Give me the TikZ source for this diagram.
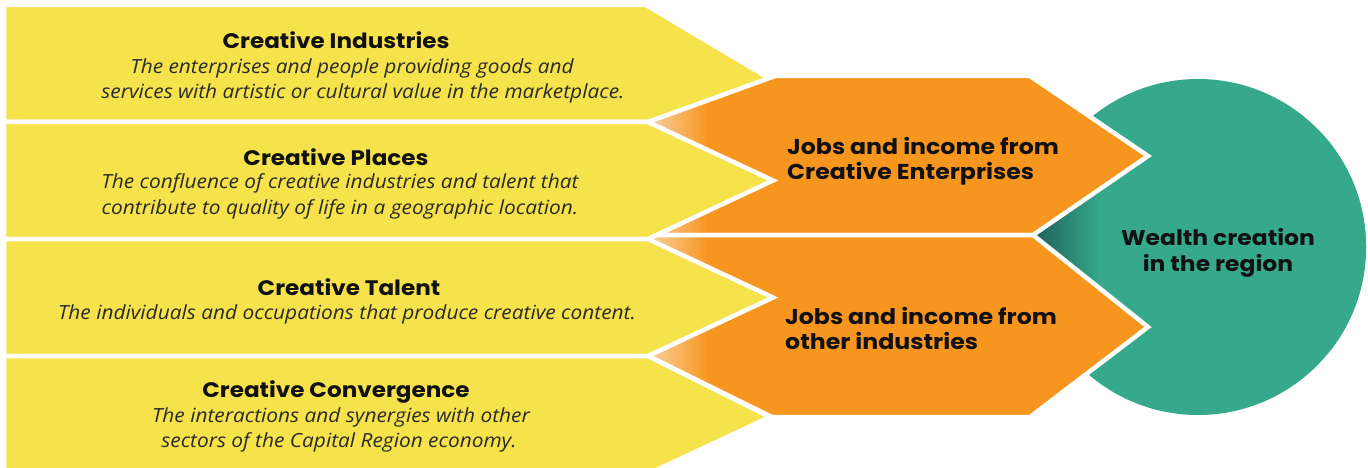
\documentclass[tikz,border=0pt]{standalone}
\usepackage{fontspec}
\newfontfamily\headfont{Poppins}[FakeStretch=1.1]
\newfontfamily\descfont{Open Sans}[FakeStretch=1.07]
\definecolor{cyellow}{HTML}{F6E34C}
\definecolor{corange}{HTML}{F7961F}
\definecolor{cpeach}{HTML}{F9D3A6}
\definecolor{cteal}{HTML}{36A98A}
\definecolor{cdteal}{HTML}{1C5A57}
\definecolor{ctext}{HTML}{111111}
\tikzset{
  ybox/.style={fill=cyellow, draw=white, line width=4.5pt, line join=miter},
  obox/.style={draw=white, line width=4.5pt, line join=miter},
  head/.style={font=\headfont\bfseries\fontsize{21}{24}\selectfont, text=ctext, anchor=base, inner sep=0pt},
  desc/.style={font=\descfont\itshape\fontsize{19.5}{22}\selectfont, text=ctext!90, anchor=base, inner sep=0pt},
  otext/.style={font=\headfont\bfseries\fontsize{21.5}{25}\selectfont, text=ctext, anchor=base west, inner sep=0pt},
  wtext/.style={font=\headfont\bfseries\fontsize{21.3}{25}\selectfont, text=ctext, anchor=base, inner sep=0pt}
}
\begin{document}
\begin{tikzpicture}[x=1pt,y=-1pt]
\useasboundingbox (0,0) rectangle (1368,468);
\fill[white] (0,0) rectangle (1368,468);
% teal circle with dark notch
\fill[cteal] (1198,247) circle (168);
\begin{scope}
  \clip (1198,247) circle (168);
  \shade[left color=cdteal, right color=cteal] (1028,130) rectangle (1100,350);
  \fill[cteal] (1099,130) rectangle (1370,350);
\end{scope}
% yellow row 1 (behind orange)
\path[ybox] (4,5) -- (646,5) -- (772,80) -- (648,122) -- (4,122) -- cycle;
% orange shapes
\fill[corange] (648,122) -- (775,76) -- (1030,76) -- (1148,156) -- (1033,235) -- (648,235) -- cycle;
\begin{scope}
  \clip (648,122) -- (775,76) -- (1030,76) -- (1148,156) -- (1033,235) -- (648,235) -- cycle;
  \shade[left color=cpeach, right color=corange] (646,60) rectangle (708,420);
\end{scope}
\path[obox] (648,122) -- (775,76) -- (1030,76) -- (1148,156) -- (1033,235) -- (648,235) -- cycle;
\fill[corange] (648,235) -- (1033,235) -- (1148,327) -- (1030,417) -- (772,417) -- (648,356) -- cycle;
\begin{scope}
  \clip (648,235) -- (1033,235) -- (1148,327) -- (1030,417) -- (772,417) -- (648,356) -- cycle;
  \shade[left color=cpeach, right color=corange] (646,60) rectangle (708,420);
\end{scope}
\path[obox] (648,235) -- (1033,235) -- (1148,327) -- (1030,417) -- (772,417) -- (648,356) -- cycle;
% yellow rows 2-4 (on top)
\path[ybox] (4,122) -- (648,122) -- (773,180.5) -- (648,239) -- (4,239) -- cycle;
\path[ybox] (4,239) -- (648,239) -- (773,297.5) -- (648,356) -- (4,356) -- cycle;
\path[ybox] (4,356) -- (648,356) -- (770,417) -- (648,474) -- (4,474) -- cycle;
% texts
\node[head] (h1) at (336,49) {Creative Industries};
\node[desc] (d1a) at (352,74) {The enterprises and people providing goods and};
\node[desc] (d1b) at (363,99) {services with artistic or cultural value in the marketplace.};
\node[head] (h2) at (336,165) {Creative Places};
\node[desc] (d2a) at (340,189) {The confluence of creative industries and talent that};
\node[desc] (d2b) at (340,214) {contribute to quality of life in a geographic location.};
\node[head] (h3) at (349,295) {Creative Talent};
\node[desc] (d3a) at (347,319) {The individuals and occupations that produce creative content.};
\node[head] (h4) at (336,397) {Creative Convergence};
\node[desc] (d4a) at (341,422) {The interactions and synergies with other};
\node[desc] (d4b) at (339,447) {sectors of the Capital Region economy.};
\node[otext] (o1a) at (787,154) {Jobs and income from};
\node[otext] (o1b) at (787,179) {Creative Enterprises};
\node[otext] (o2a) at (785,324) {Jobs and income from};
\node[otext] (o2b) at (785,349) {other industries};
\node[wtext] (w1) at (1218,245) {Wealth creation};
\node[wtext] (w2) at (1218,271) {in the region};
\end{tikzpicture}
\end{document}
